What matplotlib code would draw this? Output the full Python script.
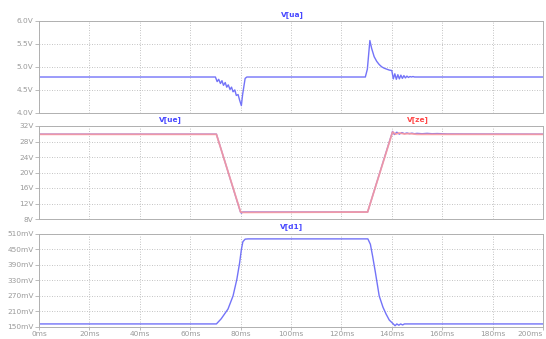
import matplotlib
matplotlib.use("Agg")
import matplotlib.pyplot as plt

# ---- data ----
ua_t = [0, 70, 70.7, 71.3, 72, 72.6, 73.2, 73.9, 74.5, 75.1, 75.8, 76.4, 77, 77.7, 78.3, 79, 79.6, 80.3,
        80.8, 81.8, 82.5, 129.5, 130.3, 131.3, 132, 133, 134, 135, 136, 137, 138, 139, 140, 140.6, 141.2,
        141.8, 142.4, 143, 143.6, 144.2, 144.8, 145.4, 146, 146.6, 147.2, 147.8, 148.4, 149, 150, 200]
ua_v = [4.78, 4.78, 4.68, 4.73, 4.64, 4.70, 4.60, 4.66, 4.56, 4.61, 4.51, 4.56, 4.46, 4.5, 4.38, 4.4, 4.28, 4.16,
        4.4, 4.75, 4.78, 4.78, 4.95, 5.57, 5.4, 5.22, 5.12, 5.05, 5.0, 4.97, 4.95, 4.93, 4.92, 4.74, 4.85,
        4.73, 4.83, 4.74, 4.82, 4.75, 4.81, 4.76, 4.80, 4.77, 4.79, 4.78, 4.79, 4.78, 4.78, 4.78]

ue_t = [0, 70.4, 79.9, 80.3, 80.8, 130.4, 140.3, 141, 142, 143, 144, 145, 146, 147, 148, 149, 150, 152,
        154, 156, 158, 160, 162, 200]
ue_v = [29.9, 29.9, 9.9, 9.5, 9.8, 9.8, 30.6, 29.8, 30.4, 29.9, 30.3, 30.0, 30.2, 30.0, 30.15, 30.0, 30.1,
        30.0, 30.1, 30.0, 30.05, 30.0, 29.95, 29.9]

ze_t = [0, 70.4, 80.0, 80.6, 130.4, 140.3, 141.5, 143, 145, 147, 150, 200]
ze_v = [29.85, 29.85, 9.8, 9.7, 9.8, 30.45, 29.9, 30.2, 29.95, 30.05, 29.85, 29.85]

d1_t = [0, 70.4, 72.3, 75, 77, 78.5, 79.6, 80.3, 80.9, 81.8, 83, 130.5, 131.5, 132.4, 133.5, 135, 136.5,
        137.7, 139, 140.6, 141.3, 142, 142.8, 143.5, 144.3, 145, 200]
d1_v = [160, 160, 180, 218, 269, 333, 397, 449, 480, 490, 491, 491, 470, 423, 360, 269, 225, 199, 175, 160,
        153, 160, 155, 160, 156, 160, 160]

x_ticks = [0, 20, 40, 60, 80, 100, 120, 140, 160, 180, 200]
x_labels = ["0ms", "20ms", "40ms", "60ms", "80ms", "100ms", "120ms", "140ms", "160ms", "180ms", "200ms"]
ua_ticks = [4.0, 4.5, 5.0, 5.5, 6.0]
ua_labels = ["4.0V", "4.5V", "5.0V", "5.5V", "6.0V"]
mid_ticks = [8, 12, 16, 20, 24, 28, 32]
mid_labels = ["8V", "12V", "16V", "20V", "24V", "28V", "32V"]
d1_ticks = [150, 210, 270, 330, 390, 450, 510]
d1_labels = ["150mV", "210mV", "270mV", "330mV", "390mV", "450mV", "510mV"]

# ---- style ----
W, H = 546, 339
fig = plt.figure(figsize=(W / 100, H / 100), dpi=100)
fig.patch.set_facecolor("white")

gray = "#b0b0b0"
tickc = "#9a9a9a"
blue = "#7373f8"
red = "#ff9a9a"
fs = 5.3

def mk_ax(top_px, bot_px):
    left = 39 / W
    right = 543 / W
    return fig.add_axes([left, 1 - bot_px / H, right - left, (bot_px - top_px) / H])

def style(ax, yt, yl, ylim, show_x):
    ax.set_xlim(0, 200)
    ax.set_ylim(*ylim)
    ax.set_yticks(yt)
    ax.set_yticklabels(yl)
    ax.set_xticks(x_ticks)
    if show_x:
        ax.set_xticklabels(x_labels)
        ax.tick_params(axis="x", length=2, width=0.6, color=gray, labelsize=fs, labelcolor=tickc, pad=1)
        ax.get_xticklabels()[-1].set_horizontalalignment("right")
    else:
        ax.set_xticklabels([])
        ax.tick_params(axis="x", length=0)
    ax.tick_params(axis="y", length=3, width=0.6, color=gray, labelsize=fs, labelcolor=tickc, pad=1)
    ax.grid(True, color=gray, linestyle=(0, (1, 2)), linewidth=0.6)
    for s in ax.spines.values():
        s.set_color(gray)
        s.set_linewidth(0.7)

ax1 = mk_ax(20.7, 113)
ax1.plot(ua_t, ua_v, color=blue, lw=1.0)
style(ax1, ua_ticks, ua_labels, (4.0, 6.0), False)

ax2 = mk_ax(126, 219)
ax2.plot(ue_t, ue_v, color=blue, lw=1.0)
ax2.plot(ze_t, ze_v, color=red, lw=1.3, alpha=0.85)
style(ax2, mid_ticks, mid_labels, (8, 32), False)

ax3 = mk_ax(234, 326.5)
ax3.plot(d1_t, d1_v, color=blue, lw=1.0)
style(ax3, d1_ticks, d1_labels, (150, 510), True)

def label(x, y, s, c):
    fig.text(x / W, 1 - y / H, s, color=c, fontsize=fs, fontweight="bold", ha="center", va="center")

label(292, 15, "V[ua]", "#4848ff")
label(170, 120, "V[ue]", "#4848ff")
label(418, 120, "V[ze]", "#ff4848")
label(292, 226.5, "V[d1]", "#4848ff")

fig.savefig("out.png", dpi=100, facecolor="white")
